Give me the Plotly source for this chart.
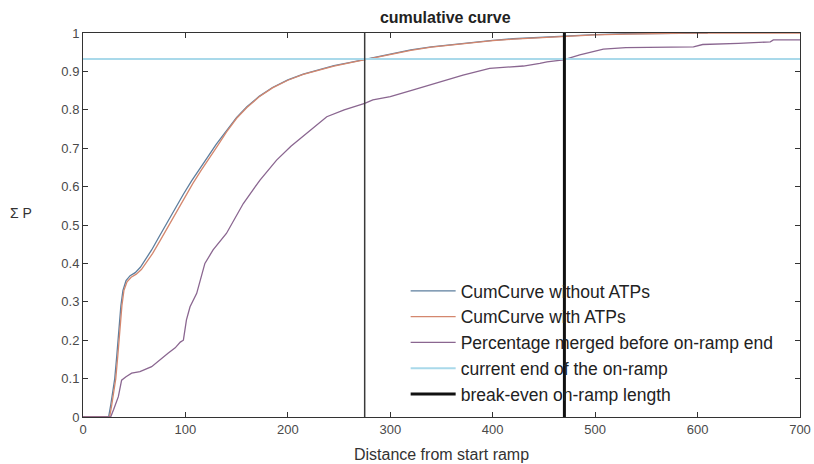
import plotly.graph_objects as go

# Distance from start of the ramp (m) and cumulative share of merged vehicles
dist_without = [0, 25, 27, 29, 31, 33, 35, 37, 39, 42, 46, 51, 56, 61, 67, 74, 82, 90, 98, 106,
                114, 122, 130, 140, 150, 160, 172, 185, 200, 215, 230, 245, 260, 275, 290, 305,
                320, 340, 360, 380, 400, 420, 445, 470, 500, 530, 560, 590, 610]
cum_without = [0, 0, 0.03, 0.07, 0.10, 0.16, 0.23, 0.29, 0.33, 0.355, 0.368, 0.376, 0.39, 0.41,
               0.435, 0.468, 0.505, 0.545, 0.58, 0.615, 0.648, 0.678, 0.71, 0.745, 0.78, 0.808,
               0.835, 0.858, 0.878, 0.893, 0.905, 0.915, 0.923, 0.931, 0.94, 0.948, 0.956, 0.964,
               0.97, 0.976, 0.981, 0.985, 0.989, 0.993, 0.996, 0.998, 0.999, 1.0, 1.0]

dist_with = [0, 26, 28, 30, 32, 34, 36, 38, 40, 43, 47, 52, 57, 62, 68, 75, 83, 91, 99, 107,
             115, 123, 131, 140, 150, 160, 172, 185, 200, 215, 230, 245, 260, 275, 290, 305,
             320, 340, 360, 380, 400, 420, 445, 470, 500, 530, 560, 590, 620, 700]
cum_with = [0, 0, 0.03, 0.07, 0.10, 0.16, 0.23, 0.29, 0.33, 0.352, 0.364, 0.372, 0.384, 0.402,
            0.426, 0.458, 0.495, 0.535, 0.572, 0.607, 0.641, 0.672, 0.705, 0.742, 0.778, 0.806,
            0.834, 0.857, 0.877, 0.892, 0.904, 0.914, 0.922, 0.930, 0.939, 0.947, 0.955, 0.963,
            0.969, 0.975, 0.98, 0.984, 0.988, 0.992, 0.995, 0.997, 0.999, 1.0, 1.0, 1.0]

dist_merged = [0, 27, 30, 34.5, 37.7, 42, 47.5, 55.6, 67, 78.4, 83, 90, 95, 98, 101, 104.5, 111,
               119, 127, 140, 156.5, 172.8, 189, 203, 218, 238, 255, 275, 283, 300, 322.5,
               348.5, 371, 397, 430, 446, 453, 469, 485, 508, 530, 596, 605, 640, 671, 674, 700]
cum_merged = [0, 0, 0.02, 0.053, 0.096, 0.105, 0.114, 0.118, 0.131, 0.157, 0.166, 0.18, 0.195,
              0.2, 0.253, 0.287, 0.322, 0.40, 0.435, 0.478, 0.556, 0.617, 0.669, 0.705, 0.739,
              0.782, 0.80, 0.817, 0.826, 0.834, 0.852, 0.873, 0.89, 0.908, 0.914, 0.921, 0.925,
              0.93, 0.943, 0.958, 0.962, 0.964, 0.97, 0.973, 0.977, 0.982, 0.982]

current_end_level = 0.932     # cumulative share at the current on-ramp end
current_end_length = 275      # current on-ramp length
break_even_length = 470       # break-even on-ramp length

fig = go.Figure()

fig.add_trace(go.Scatter(x=dist_without, y=cum_without, mode="lines",
                         name="CumCurve without ATPs",
                         line=dict(color="#5d7e9e", width=1.3)))
fig.add_trace(go.Scatter(x=dist_with, y=cum_with, mode="lines",
                         name="CumCurve with ATPs",
                         line=dict(color="#d4876e", width=1.3)))
fig.add_trace(go.Scatter(x=dist_merged, y=cum_merged, mode="lines",
                         name="Percentage merged before on-ramp end",
                         line=dict(color="#8a6690", width=1.3)))
fig.add_trace(go.Scatter(x=[0, 700], y=[current_end_level, current_end_level], mode="lines",
                         name="current end of the on-ramp",
                         line=dict(color="#a9d9ea", width=2)))
fig.add_trace(go.Scatter(x=[current_end_length, current_end_length], y=[0, 1], mode="lines",
                         showlegend=False,
                         line=dict(color="#3a3a3a", width=1.5)))
fig.add_trace(go.Scatter(x=[break_even_length, break_even_length], y=[0, 1], mode="lines",
                         name="break-even on-ramp length",
                         line=dict(color="#111111", width=3)))

axis_common = dict(
    showline=True, linecolor="#333333", linewidth=1, mirror="ticks",
    ticks="inside", ticklen=5, tickcolor="#333333",
    showgrid=False, zeroline=False, automargin=False,
    tickfont=dict(family="Liberation Sans", size=13, color="#4a4a4a"),
)

fig.update_layout(
    width=814, height=464,
    margin=dict(l=83, r=14, t=33, b=47),
    paper_bgcolor="white", plot_bgcolor="white",
    title=dict(text="<b>cumulative curve</b>", x=0.547, xanchor="center", y=0.962,
               yanchor="middle",
               font=dict(family="Liberation Sans", size=16, color="#222222")),
    xaxis=dict(range=[0, 700], tickvals=[0, 100, 200, 300, 400, 500, 600, 700],
               title=dict(text="Distance from start ramp", standoff=13,
                          font=dict(family="Liberation Sans", size=16, color="#333333")),
               **axis_common),
    yaxis=dict(range=[0, 1], dtick=0.1, tick0=0, **axis_common),
    legend=dict(x=0.45, y=0.375, xanchor="left", yanchor="top",
                bgcolor="rgba(0,0,0,0)", borderwidth=0, itemwidth=45,
                font=dict(family="Liberation Sans", size=17.5, color="#222222"),
                tracegroupgap=0),
    showlegend=True,
)

fig.add_annotation(text="Σ P", xref="paper", yref="paper", x=-0.0865, y=0.53,
                   showarrow=False, xanchor="center", yanchor="middle",
                   font=dict(family="Liberation Sans", size=14, color="#333333"))

fig.write_html("out.html")
